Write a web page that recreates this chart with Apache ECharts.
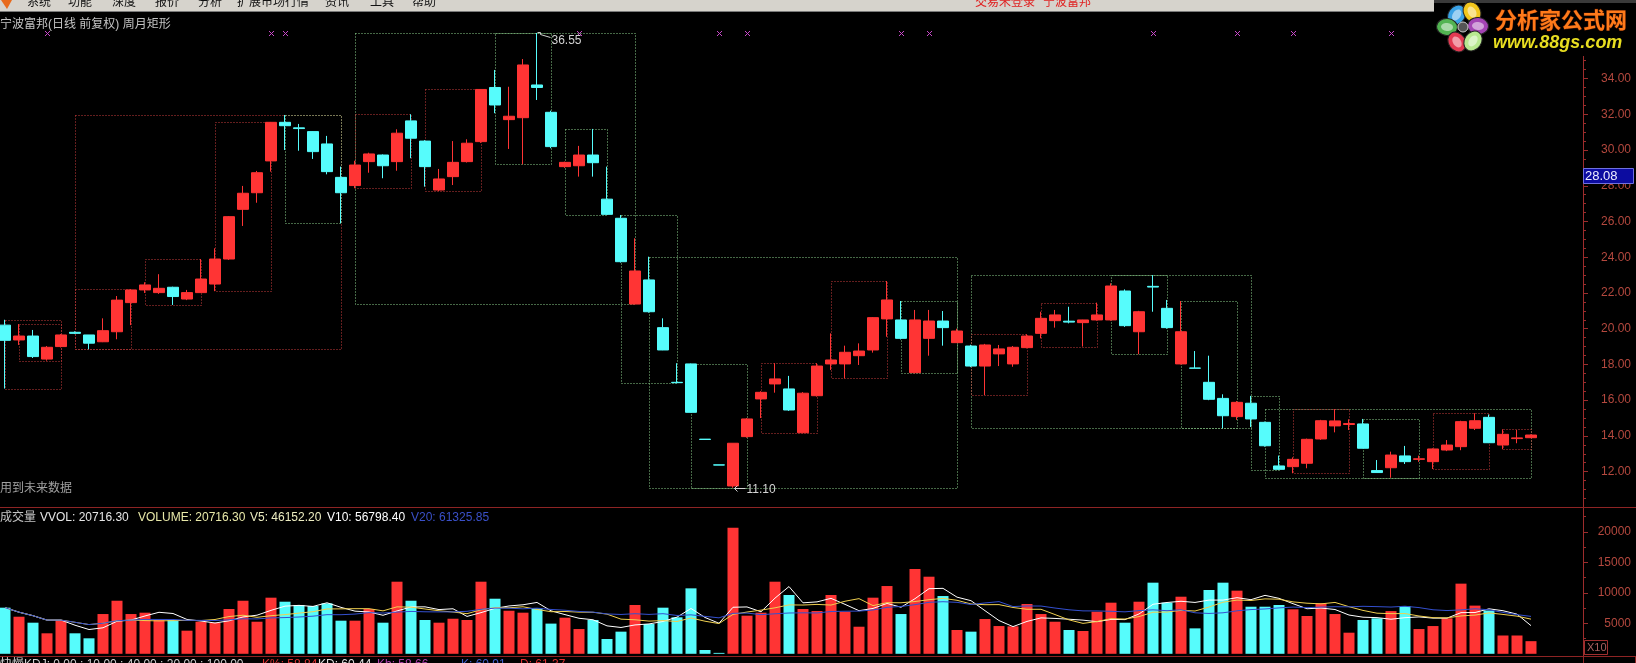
<!DOCTYPE html>
<html><head><meta charset="utf-8">
<script src="https://cdn.jsdelivr.net/npm/echarts@6/dist/echarts.min.js"></script>
<style>html,body{margin:0;padding:0;background:#000;overflow:hidden}#c{width:1636px;height:663px}</style>
</head><body><div id="c"></div>
<script>
// ---------- data ----------
const opens  = [20.20,19.37,19.59,18.30,19.00,19.80,19.65,19.27,19.83,21.46,22.17,22.02,22.32,21.66,22.02,22.50,23.90,26.68,27.61,29.39,
                31.55,31.24,31.03,30.34,28.47,28.01,29.35,29.72,29.35,31.63,30.50,27.76,28.51,29.35,30.47,33.50,31.70,31.81,33.64,32.11,
                29.07,29.12,29.72,27.25,26.18,21.38,22.73,20.06,17.00,18.03,13.82,12.38,11.20,13.96,16.07,16.91,16.63,14.18,16.25,18.03,
                18.03,18.49,18.81,20.55,20.49,17.54,19.46,20.43,19.22,19.03,17.91,18.59,18.03,18.94,19.74,20.45,20.42,20.34,20.49,20.49,
                22.11,19.83,22.37,21.14,18.03,17.80,17.00,16.10,15.08,15.83,14.76,12.32,12.28,12.47,13.83,14.56,14.64,14.67,12.06,12.22,
                12.88,12.69,12.56,13.21,13.40,14.43,15.04,13.49,13.85,13.90];
const closes = [19.35,19.59,18.44,18.96,19.65,19.74,19.19,19.89,21.60,22.17,22.45,22.26,21.80,22.02,22.78,23.90,26.27,27.58,28.73,31.55,
                31.36,31.20,29.91,28.79,27.61,29.16,29.78,29.12,30.94,30.66,29.07,28.38,29.31,30.38,33.39,32.52,31.89,34.76,33.50,30.19,
                29.31,29.72,29.29,26.40,23.75,23.23,20.95,18.81,16.98,15.32,13.80,12.37,13.59,14.95,16.44,17.19,15.45,16.39,17.91,18.25,
                18.68,18.75,20.62,21.61,19.46,20.49,20.43,20.06,19.87,17.91,19.09,18.87,18.96,19.59,20.58,20.77,20.37,20.49,20.77,22.39,
                20.17,20.95,22.33,20.06,19.83,17.79,16.05,15.13,15.88,14.95,13.45,12.13,12.69,13.81,14.85,14.84,14.69,13.31,11.95,12.93,
                12.56,12.72,13.27,13.49,14.80,14.85,13.62,14.09,13.89,14.05];
const lows   = [16.65,19.09,18.36,18.21,18.95,19.70,18.85,19.25,19.41,20.20,22.00,21.95,21.33,21.60,22.00,22.10,23.85,25.75,27.05,28.79,
                30.00,29.96,29.50,28.64,25.90,27.86,28.73,28.42,28.84,29.54,27.95,27.70,28.04,29.30,30.40,32.06,30.06,29.20,32.80,30.10,
                29.00,28.51,28.51,26.37,23.70,21.37,20.90,18.80,16.95,15.30,13.80,12.37,11.10,13.90,15.00,16.42,15.40,14.15,16.20,17.69,
                17.22,17.97,18.66,19.55,19.40,17.50,18.49,19.05,19.20,17.85,16.29,17.91,17.87,18.90,19.46,20.06,20.30,19.00,20.45,20.45,
                20.10,18.57,20.95,20.00,18.00,17.79,16.00,14.43,14.90,14.50,13.40,12.10,11.91,12.19,13.78,14.20,14.33,13.30,11.95,11.66,
                12.43,12.55,12.15,13.15,13.20,14.33,13.60,13.25,13.59,13.88];
const highs  = [20.50,20.26,19.93,19.03,19.70,19.85,19.65,20.58,21.83,22.21,22.60,23.05,22.35,22.17,23.90,24.50,26.30,27.99,28.83,31.57,
                31.96,31.46,31.05,30.79,29.07,29.40,29.85,29.75,31.16,32.00,30.55,28.94,30.50,30.60,33.40,34.48,33.54,35.09,36.55,32.20,
                29.35,30.23,31.18,29.07,26.36,25.06,24.03,20.58,18.07,18.05,13.82,12.38,13.60,15.00,16.50,18.07,17.36,16.45,18.07,19.74,
                19.05,19.18,20.65,22.67,21.55,21.05,21.05,20.99,20.00,19.10,19.15,19.09,19.03,19.69,20.95,21.05,21.23,20.50,21.46,22.54,
                22.20,21.00,23.00,21.61,21.55,18.75,18.49,16.33,15.95,16.24,14.80,12.90,12.80,13.85,14.90,15.50,14.93,14.95,12.65,13.12,
                13.44,12.90,13.30,13.77,14.85,15.27,15.20,14.37,14.33,14.08];
const volumes = [7560,6080,5100,3360,5540,3360,2540,6520,8700,6520,6740,5540,5540,3790,5260,5100,7340,8700,5260,9200,
                 8540,8000,7830,8270,5430,5430,7340,5100,11820,8700,5540,5100,5750,5540,11820,9030,7060,6740,7450,4950,
                 5920,4060,5540,2430,3630,8000,4880,7560,5980,10730,620,150,20670,6250,6740,11820,9640,7340,7010,9640,
                 6900,4440,9200,11110,6520,13900,12640,9470,3900,3630,5700,4550,4500,8160,6520,5260,3900,3740,6900,8380,
                 5100,8540,11660,8380,9360,4170,10460,11660,10350,7720,7720,8000,7290,6200,8300,6520,3460,5540,5820,7000,
                 7800,4060,4550,5820,11500,7900,7100,3000,3000,2072];
const weekStarts  = [1,5,10,15,20,25,30,35,40,44,49,54,59,64,69,74,79,84,89,92,97,102,107];
const weekUp      = [1,1,1,1,0,1,1,0,0,0,0,1,1,0,1,1,0,0,0,1,0,1,1];
const monthStarts = [0,5,25,46,69,90];
const monthUp     = [1,1,0,0,0,0];
const signalIdx   = [3,19,20,41,51,53,64,66,82,88,92,99];
const priceMin = 10, priceMax = 36, priceStep = 2;
const volMax = 24000, volStep = 5000;
const headerVals = {VVOL:'20716.30', VOLUME:'20716.30', V5:'46152.20', V10:'56798.40', V20:'61325.85'};
const kdjText = ['快慢KDJ: 0.00 : 10.00 : 40.00 : 20.00 : 100.00','K%: 58.84','KD: 60.44','Kb: 58.66','K: 60.91','D: 61.37'];
const categories = opens.map((_, i) => String(i));

// ---------- derived ----------
const N = opens.length;
const RED = '#ff3434', CYAN = '#56fcfc';
const ohlc = opens.map((o, i) => [o, closes[i], lows[i], highs[i]]);
function periods(starts, ups) {
  return starts.map((s, k) => {
    const e = k + 1 < starts.length ? starts[k + 1] - 1 : N - 1;
    let hi = -Infinity, lo = Infinity;
    for (let i = s; i <= e; i++) { hi = Math.max(hi, highs[i]); lo = Math.min(lo, lows[i]); }
    return [s, e, hi, lo, ups[k]];
  });
}
const rects = periods(monthStarts, monthUp).concat(periods(weekStarts, weekUp));
function ma(n) {
  return volumes.map((v, i) => {
    const s = Math.max(0, i - n + 1); let sum = 0;
    for (let k = s; k <= i; k++) sum += volumes[k];
    return +(sum / (i - s + 1)).toFixed(1);
  });
}
let maxI = 0, minI = 0;
highs.forEach((h, i) => { if (h > highs[maxI]) maxI = i; });
lows.forEach((l, i) => { if (l < lows[minI]) minI = i; });
const topVal = highs[maxI];

const FONT = "'Liberation Sans','Noto Sans CJK SC',sans-serif";
const AXC = '#9c2c2c', LABC = '#b4483e';

const chart = echarts.init(document.getElementById('c'), null, {renderer: 'canvas'});
const G = {left: -2, width: 1540, outerBoundsMode: 'none', containLabel: false};
chart.setOption({
  backgroundColor: '#000',
  animation: false,
  grid: [
    Object.assign({top: 42.8, height: 464.6}, G),
    Object.assign({top: 507.4, height: 146.4}, G)
  ],
  xAxis: [0, 1].map(g => ({type: 'category', gridIndex: g, data: categories, boundaryGap: true, show: false})),
  yAxis: [
    {type: 'value', gridIndex: 0, min: priceMin, max: priceMax, interval: priceStep, position: 'right', offset: 45, scale: true,
     axisLine: {show: true, lineStyle: {color: AXC}}, axisTick: {show: true, inside: false, length: 5, lineStyle: {color: AXC}},
     minorTick: {show: true, splitNumber: 4, length: 3, lineStyle: {color: AXC}}, splitLine: {show: false}, minorSplitLine: {show: false},
     axisLabel: {color: LABC, fontSize: 12, fontFamily: FONT, align: 'right', margin: 48, showMinLabel: false, showMaxLabel: false,
                 formatter: v => v.toFixed(2)}},
    {type: 'value', gridIndex: 1, min: 0, max: volMax, interval: volStep, position: 'right', offset: 45,
     axisLine: {show: true, lineStyle: {color: AXC}}, axisTick: {show: true, inside: false, length: 5, lineStyle: {color: AXC}},
     minorTick: {show: true, splitNumber: 2, length: 3, lineStyle: {color: AXC}}, splitLine: {show: false}, minorSplitLine: {show: false},
     axisLabel: {color: LABC, fontSize: 12, fontFamily: FONT, align: 'right', margin: 48, showMinLabel: false, showMaxLabel: false,
                 formatter: v => String(v)}}
  ],
  series: [
    {type: 'custom', name: 'rects', xAxisIndex: 0, yAxisIndex: 0, clip: false, z: 1, silent: true,
     encode: {x: 0, y: 2}, data: rects,
     renderItem: (params, api) => {
       const p1 = api.coord([api.value(0), api.value(2)]), p2 = api.coord([api.value(1), api.value(3)]);
       const x1 = Math.round(p1[0]) + 0.5, y1 = Math.round(p1[1]) + 0.5, x2 = Math.round(p2[0]) + 0.5, y2 = Math.round(p2[1]) + 0.5;
       return {type: 'rect', shape: {x: x1, y: y1, width: x2 - x1, height: y2 - y1},
               style: {fill: 'none', stroke: api.value(4) ? '#c83c3c' : '#8cd08c', lineWidth: 1, lineDash: [1, 2]}};
     }},
    {type: 'candlestick', name: 'k', xAxisIndex: 0, yAxisIndex: 0, data: ohlc, barWidth: 11, clip: false, z: 2,
     itemStyle: {color: RED, color0: CYAN, borderColor: RED, borderColor0: CYAN, borderColorDoji: '#ffffff', borderWidth: 1}},
    {type: 'custom', name: 'signals', xAxisIndex: 0, yAxisIndex: 0, clip: false, z: 3, silent: true,
     encode: {x: 0, y: 1}, data: signalIdx.map(i => [i, topVal]),
     renderItem: (params, api) => {
       const p = api.coord([api.value(0), api.value(1)]);
       const x = Math.round(p[0]) + 0.5, y = Math.round(p[1]) + 0.5, s = 2.5;
       return {type: 'group', children: [
         {type: 'line', shape: {x1: x - s, y1: y - s, x2: x + s, y2: y + s}, style: {stroke: '#c848c8', lineWidth: 1}},
         {type: 'line', shape: {x1: x - s, y1: y + s, x2: x + s, y2: y - s}, style: {stroke: '#c848c8', lineWidth: 1}}]};
     }},
    {type: 'bar', name: 'vol', xAxisIndex: 1, yAxisIndex: 1, barWidth: 11, z: 2,
     data: volumes.map((v, i) => ({value: v, itemStyle: {color: closes[i] >= opens[i] ? RED : CYAN}}))},
    {type: 'line', name: 'V5', xAxisIndex: 1, yAxisIndex: 1, data: ma(5), showSymbol: false, z: 3, lineStyle: {color: '#ffffff', width: 1}},
    {type: 'line', name: 'V10', xAxisIndex: 1, yAxisIndex: 1, data: ma(10), showSymbol: false, z: 3, lineStyle: {color: '#f0d050', width: 1}},
    {type: 'line', name: 'V20', xAxisIndex: 1, yAxisIndex: 1, data: ma(20), showSymbol: false, z: 3, lineStyle: {color: '#3450d0', width: 1}}
  ]
});

// ---------- decorations ----------
function T(x, y, text, color, size, extra) {
  return Object.assign({type: 'text', x, y, z: 50,
    style: {text, fill: color, font: (size || 12) + 'px ' + FONT, align: 'left', verticalAlign: 'middle', textAlign: 'left', textVerticalAlign: 'middle'}}, extra || {});
}
function L(x1, y1, x2, y2, c, z) { return {type: 'line', z: z || 40, shape: {x1, y1, x2, y2}, style: {stroke: c, lineWidth: 1}}; }
const gr = [];
// menu bar
gr.push({type: 'rect', z: 40, shape: {x: 0, y: 0, width: 1636, height: 11}, style: {fill: '#d6d3cc'}});
gr.push(L(0, 11.5, 1636, 11.5, '#7a7a7a'));
gr.push({type: 'polygon', z: 41, shape: {points: [[1, 0], [12, 0], [7, 9]]}, style: {fill: '#e86a1c'}});
[['系统', 27], ['功能', 68], ['深度', 112], ['报价', 155], ['分析', 198], ['扩展市场行情', 237], ['资讯', 325], ['工具', 370], ['帮助', 412]]
  .forEach(([t, x]) => gr.push(T(x, 3, t, '#111', 12)));
gr.push(T(975, 3, '交易未登录', '#e02020', 12));
gr.push(T(1043, 3, '宁波富邦', '#e02020', 12));
// logo
gr.push({type: 'rect', z: 60, shape: {x: 1434, y: 0, width: 202, height: 56}, style: {fill: '#000'}});
gr.push({type: 'rect', z: 60, shape: {x: 1434, y: 0, width: 202, height: 3}, style: {fill: '#3a3a3a'}});
[[1456.7, 15, '#3aa2e6', -0.6], [1472, 12, '#f2c61c', 0.5], [1478, 26, '#a444b4', 1.5], [1447, 27, '#52b452', 1.5], [1457, 42, '#e23a52', 0.6], [1473, 41, '#b8e890', -0.6]]
  .forEach(([cx, cy, c, r]) => {
    gr.push({type: 'ellipse', z: 61, x: cx, y: cy, rotation: r, shape: {cx: 0, cy: 0, rx: 8.5, ry: 10.5}, style: {fill: c, stroke: '#222', lineWidth: 1}});
    gr.push({type: 'ellipse', z: 62, x: cx, y: cy, rotation: r, shape: {cx: 0, cy: 0, rx: 4, ry: 6}, style: {fill: 'rgba(255,255,255,0.5)'}});
  });
gr.push({type: 'circle', z: 63, shape: {cx: 1463, cy: 27, r: 5}, style: {fill: '#555', stroke: '#ccc', lineWidth: 1}});
gr.push({type: 'text', z: 64, x: 1495, y: 20, style: {text: '分析家公式网', font: 'bold 22px "Noto Sans CJK SC",sans-serif',
  fill: '#ff7a1a', stroke: '#4a1400', lineWidth: 1, align: 'left', verticalAlign: 'middle', textAlign: 'left', textVerticalAlign: 'middle'}});
gr.push({type: 'text', z: 64, x: 1493, y: 43.5, style: {text: 'www.88gs.com', font: 'italic bold 18px "Liberation Sans",sans-serif',
  fill: '#e8de20', align: 'left', verticalAlign: 'middle', textAlign: 'left', textVerticalAlign: 'middle'}});
// title & notes
gr.push(T(0, 25, '宁波富邦(日线 前复权) 周月矩形', '#c4c4c4', 12));
gr.push(T(0, 489, '用到未来数据', '#a0a0a0', 12));
// panel separators
gr.push(L(0, 507.5, 1636, 507.5, '#8e2424'));
gr.push(L(0, 656.5, 1636, 656.5, '#8e2424'));
gr.push(L(1583.5, 654, 1583.5, 663, AXC));
gr.push({type: 'rect', z: 40, shape: {x: 1583.5, y: 656.5, width: 52, height: 10}, style: {fill: 'none', stroke: '#8e2424'}});
// volume header
gr.push(T(0, 518, '成交量', '#c4c4c4', 12));
gr.push(T(40, 518, 'VVOL: ' + headerVals.VVOL, '#e6e6e6', 12));
gr.push(T(138, 518, 'VOLUME: ' + headerVals.VOLUME, '#e8e8a8', 12));
gr.push(T(250, 518, 'V5: ' + headerVals.V5, '#ececc0', 12));
gr.push(T(327, 518, 'V10: ' + headerVals.V10, '#ffffff', 12));
gr.push(T(411, 518, 'V20: ' + headerVals.V20, '#3a50c8', 12));
// X10 box
gr.push({type: 'rect', z: 45, shape: {x: 1584.5, y: 640.5, width: 23, height: 14}, style: {fill: '#000', stroke: '#a03030'}});
gr.push(T(1587, 648, 'X10', '#a86060', 11));
// 28.08 box
gr.push({type: 'rect', z: 45, shape: {x: 1583.5, y: 168.5, width: 50, height: 15}, style: {fill: '#0c0ca0', stroke: '#7070e0'}});
gr.push(T(1585, 176.5, '28.08', '#ececff', 13));
// KDJ line (cut off at bottom)
[[0, '#d0d0d0'], [262, '#e03030'], [318, '#e0e0e0'], [377, '#b040b0'], [461, '#4060d0'], [520, '#e03030']]
  .forEach(([x, c], k) => gr.push(T(x, 665, kdjText[k], c, 12)));
// extreme labels
const pMax = chart.convertToPixel({gridIndex: 0}, [maxI, highs[maxI]]);
const pMin = chart.convertToPixel({gridIndex: 0}, [minI, lows[minI]]);
const ax = Math.round(pMax[0]) + 0.5, ay = Math.round(pMax[1]) + 0.5;
gr.push({type: 'polyline', z: 45, shape: {points: [[ax, ay - 1], [ax + 3, ay - 1], [ax + 3, ay + 1], [ax + 13, ay + 4]]}, style: {stroke: '#d0d0d0', fill: null, lineWidth: 1}});
gr.push(T(ax + 14, ay + 7, highs[maxI].toFixed(2), '#d4d4d4', 12));
const bx = Math.round(pMin[0]) + 0.5, by = Math.round(pMin[1]) + 0.5;
gr.push(L(bx + 1, by, bx + 12, by, '#d0d0d0', 45));
gr.push({type: 'polyline', z: 45, shape: {points: [[bx + 4, by - 3], [bx + 1, by], [bx + 4, by + 3]]}, style: {stroke: '#d0d0d0', fill: null, lineWidth: 1}});
gr.push(T(bx + 13, by + 1.5, lows[minI].toFixed(2), '#d4d4d4', 12));
chart.setOption({graphic: gr});
</script>
</body></html>
